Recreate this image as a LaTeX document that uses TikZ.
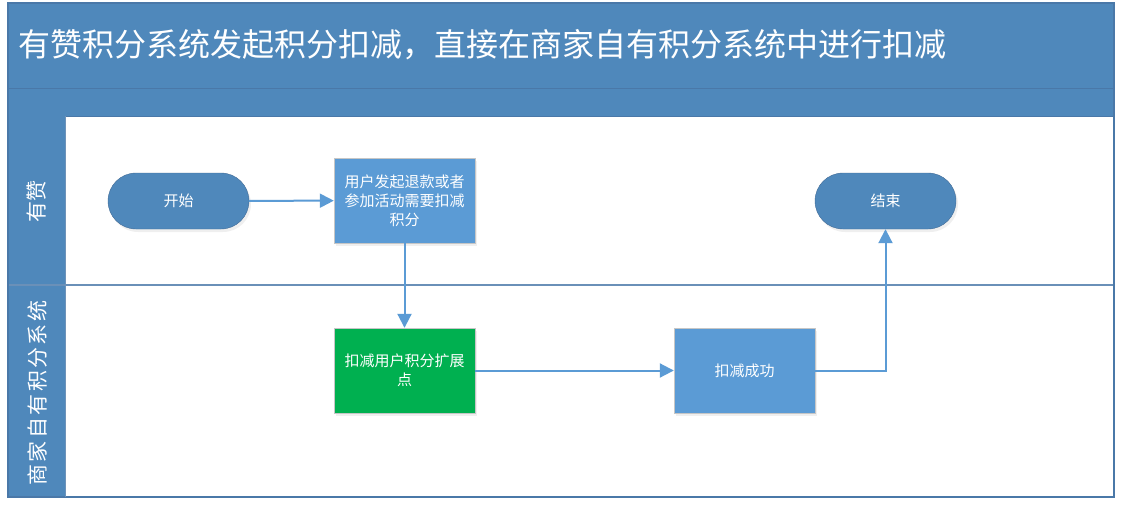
\documentclass[tikz,border=0pt]{standalone}
\usepackage{fontspec}
\setmainfont{Noto Sans CJK SC}
\usetikzlibrary{arrows.meta,shadows}
\definecolor{band}{HTML}{4F88BB}
\definecolor{boxblue}{HTML}{5B9BD5}
\definecolor{okgreen}{HTML}{00B050}
\definecolor{frame}{HTML}{4A78A8}
\definecolor{sep}{HTML}{6A90B8}
\tikzset{
  pill/.style={draw=frame!90!black, fill=band, rounded corners=28pt, minimum width=141pt, minimum height=56pt, text=white, font=\fontsize{15}{19}\selectfont, drop shadow={opacity=0.12, shadow xshift=2pt, shadow yshift=-3pt}},
  procbox/.style={draw=gray!45, fill=boxblue, minimum width=141pt, minimum height=85pt, align=center, text=white, font=\fontsize{15}{19}\selectfont, drop shadow={opacity=0.12, shadow xshift=2pt, shadow yshift=-3pt}},
  flow/.style={draw=boxblue, line width=2pt, arrows={-Triangle[length=14pt,width=14pt]}},
  lanelabel/.style={text=white, rotate=90, font=\fontsize{21}{24}\selectfont}
}
\begin{document}
\begin{tikzpicture}[x=1pt,y=-1pt]
\useasboundingbox (0,0) rectangle (1123,509);
% frame and bands
\fill[white] (8,3) rectangle (1114,497);
\fill[band] (8,3) rectangle (1114,116);
\draw[frame, line width=0.8pt] (8,88) -- (1114,88);
\draw[frame, line width=0.8pt] (8,116) -- (1114,116);
\fill[band] (8,116) rectangle (65,497);
\draw[sep, line width=1.4pt] (8,285) -- (1114,285);
\draw[frame, line width=1.2pt] (8,3) rectangle (1114,497);
\draw[frame!80, line width=0.6pt] (65,116) -- (65,497);
% title and lane labels
\node[anchor=west, text=white, font=\fontsize{32}{34}\selectfont] (title) at (15,45) {有赞积分系统发起积分扣减，直接在商家自有积分系统中进行扣减};
\node[lanelabel] (lane1) at (37,201) {有赞};
\node[lanelabel] (lane2) at (37,393) {商\hspace{2.4pt}家\hspace{2.4pt}自\hspace{2.4pt}有\hspace{2.4pt}积\hspace{2.4pt}分\hspace{2.4pt}系\hspace{2.4pt}统};
% nodes
\node[pill] (start) at (178.5,201) {开始};
\node[procbox] (req) at (404.5,200.5) {用户发起退款或者\\参加活动需要扣减\\积分};
\node[procbox, fill=okgreen] (ext) at (404.5,370.5) {扣减用户积分扩展\\点};
\node[procbox] (ok) at (744.5,370.5) {扣减成功};
\node[pill] (end) at (885.5,201) {结束};
% connectors
\draw[flow] (start) -- (req);
\draw[flow] (req) -- (ext);
\draw[flow] (ext) -- (ok);
\draw[flow] (ok.east) -| (end.south);
\end{tikzpicture}
\end{document}
